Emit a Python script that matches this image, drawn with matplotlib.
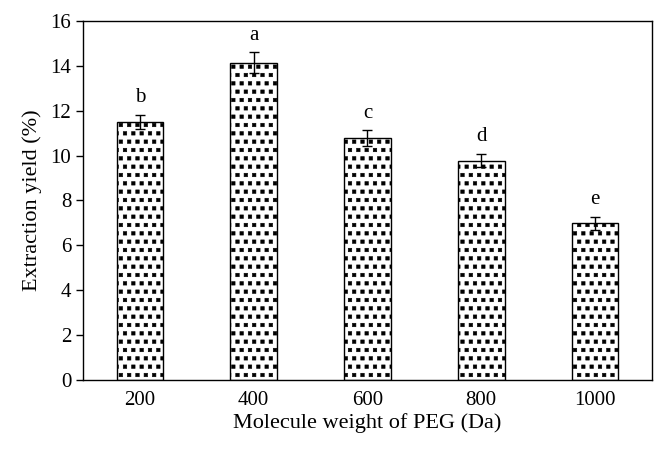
import matplotlib
matplotlib.use('Agg')
import matplotlib.pyplot as plt
import matplotlib.hatch as mhatch
from matplotlib.path import Path
import numpy as np

plt.rcParams['font.family'] = ['Liberation Serif', 'DejaVu Serif']
plt.rcParams['hatch.linewidth'] = 0.4

peg = ['200', '400', '600', '800', '1000']
yield_pct = [11.5, 14.15, 10.78, 9.78, 6.98]
err = [0.33, 0.45, 0.34, 0.3, 0.3]
letters = ['b', 'a', 'c', 'd', 'e']


# small filled squares on a staggered grid, used in place of the '*' hatch
class FilledSquares(mhatch.Shapes):
    size = 0.21
    filled = True

    def __init__(self, hatch, density):
        self.num_rows = hatch.count('*') * density
        self.shape_vertices = np.array(
            [[-1, -1], [1, -1], [1, 1], [-1, 1], [-1, -1]], dtype=float)
        self.shape_codes = np.array(
            [Path.MOVETO, Path.LINETO, Path.LINETO, Path.LINETO, Path.CLOSEPOLY],
            dtype=Path.code_type)
        super().__init__(hatch, density)


mhatch._hatch_types = [h for h in mhatch._hatch_types if h is not mhatch.Stars]
mhatch._hatch_types.append(FilledSquares)

fig = plt.figure(figsize=(6.66, 4.5), dpi=100)
ax = fig.add_axes([0.1246, 0.1556, 0.8544, 0.7977])

x = np.arange(len(peg))
ax.bar(x, yield_pct, width=0.41, color='white', edgecolor='black',
       linewidth=1.0, hatch='**', yerr=err,
       error_kw=dict(ecolor='black', elinewidth=1.0, capsize=3.6, capthick=1.0))

for xi, v, e, lab in zip(x, yield_pct, err, letters):
    ax.text(xi, v + e + 0.55, lab, ha='center', va='baseline', fontsize=15)

ax.set_xlim(-0.5, len(peg) - 0.5)
ax.set_ylim(0, 16)
ax.set_yticks(range(0, 17, 2))
ax.set_xticks(x)
ax.set_xticklabels(peg)
ax.tick_params(axis='x', length=0, labelsize=15, pad=8)
ax.tick_params(axis='y', direction='out', length=5, labelsize=15, width=1.0)
for s in ax.spines.values():
    s.set_linewidth(1.0)

ax.set_xlabel('Molecule weight of PEG (Da)', fontsize=16, labelpad=2)
ax.set_ylabel('Extraction yield (%)', fontsize=16, labelpad=6)

fig.savefig('out.png', dpi=100)
